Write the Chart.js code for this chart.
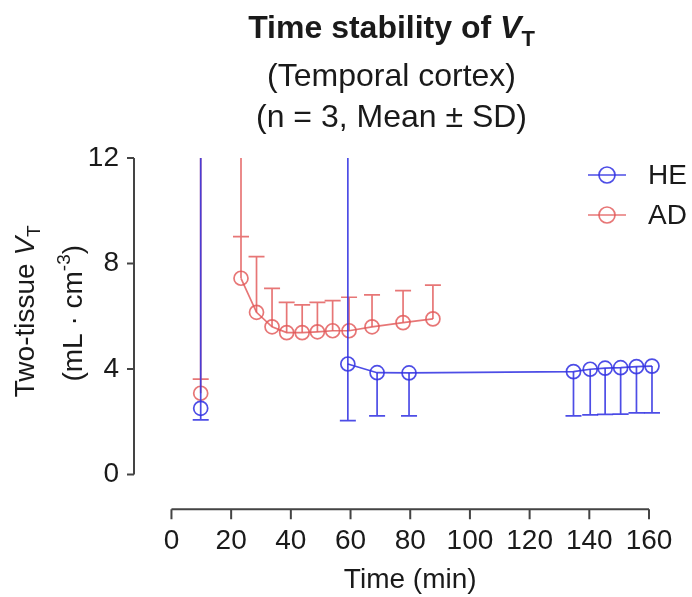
<!DOCTYPE html>
<html><head><meta charset="utf-8">
<script src="https://cdn.jsdelivr.net/npm/chart.js@4.4.0/dist/chart.umd.min.js"></script>
<style>html,body{margin:0;padding:0;background:#fff;}canvas{display:block;}</style>
</head><body>
<canvas id="c" width="692" height="597"></canvas>
<script>
// ---- data ----
const seriesNames = ['HE', 'AD'];
const heTime  = [9.8, 59.1, 68.9, 79.6, 134.7, 140.3, 145.3, 150.5, 155.8, 161.0];
const heMean  = [2.51, 4.19, 3.86, 3.85, 3.90, 3.99, 4.03, 4.05, 4.09, 4.11];
const heLower = [2.07, 2.04, 2.22, 2.22, 2.22, 2.26, 2.28, 2.29, 2.34, 2.34];
const heUpper = [14, 14, null, null, null, null, null, null, null, null];     // off-scale SD arms
const heUpperCap = [null, null, null, null, null, null, null, null, null, null];

const adTime  = [9.8, 23.3, 28.5, 33.7, 38.6, 43.8, 48.9, 54.0, 59.5, 67.2, 77.6, 87.6];
const adMean  = [3.08, 7.44, 6.15, 5.60, 5.38, 5.38, 5.41, 5.45, 5.45, 5.60, 5.76, 5.90];
const adUpper = [14, 14, 8.26, 7.06, 6.53, 6.43, 6.53, 6.59, 6.72, 6.81, 6.97, 7.18];
const adUpperCap = [3.62, 9.02, 8.26, 7.06, 6.53, 6.43, 6.53, 6.59, 6.72, 6.81, 6.97, 7.18];
const adLower = [null, null, null, null, null, null, null, null, null, null, null, null];

const xTicks = [0, 20, 40, 60, 80, 100, 120, 140, 160];
const yTicks = [0, 4, 8, 12];

const FONT = '"Liberation Sans", Arial, Helvetica, sans-serif';
const HE_COLOR = 'rgba(52,52,226,0.88)';
const AD_COLOR = 'rgba(226,88,88,0.82)';
const AXIS_COLOR = '#444';
const TEXT_COLOR = '#1a1a1a';

function pts(xs, ys) { return xs.map((x, i) => ({x: x, y: ys[i]})); }

function drawRich(ctx, segs, x, y) {
  let total = 0;
  segs.forEach(s => { ctx.font = s.font; s.w = ctx.measureText(s.t).width; total += s.w + (s.gap || 0); });
  let cx = x - total / 2;
  ctx.textAlign = 'left';
  ctx.textBaseline = 'alphabetic';
  segs.forEach(s => { ctx.font = s.font; ctx.fillText(s.t, cx, y + (s.dy || 0)); cx += s.w + (s.gap || 0); });
}

const errorBars = {
  upper:  [heUpper, adUpper],
  upperCap: [heUpperCap, adUpperCap],
  lower:  [heLower, adLower]
};

const decorPlugin = {
  id: 'decor',
  afterDatasetsDraw(chart) {
    const ctx = chart.ctx, xs = chart.scales.x, ys = chart.scales.y, a = chart.chartArea;
    ctx.save();
    ctx.beginPath();
    ctx.rect(0, a.top, chart.width, chart.height - a.top);
    ctx.clip();
    const capHalf = 8;
    [1, 0].forEach(di => {
      const ds = chart.data.datasets[di];
      ctx.strokeStyle = ds.borderColor;
      ctx.lineWidth = 1.7;
      ds.data.forEach((p, i) => {
        const px = xs.getPixelForValue(p.x), py = ys.getPixelForValue(p.y);
        const up = errorBars.upper[di][i], upc = errorBars.upperCap[di][i], lo = errorBars.lower[di][i];
        ctx.beginPath();
        if (up != null) { ctx.moveTo(px, py); ctx.lineTo(px, ys.getPixelForValue(up)); }
        if (upc != null) { const cy = ys.getPixelForValue(upc); ctx.moveTo(px - capHalf, cy); ctx.lineTo(px + capHalf, cy);
          if (up == null) { ctx.moveTo(px, py); ctx.lineTo(px, cy); } }
        if (lo != null) { const ly = ys.getPixelForValue(lo); ctx.moveTo(px, py); ctx.lineTo(px, ly);
          ctx.moveTo(px - capHalf, ly); ctx.lineTo(px + capHalf, ly); }
        ctx.stroke();
      });
    });
    ctx.restore();
  },
  afterDraw(chart) {
    const ctx = chart.ctx, xs = chart.scales.x, ys = chart.scales.y, a = chart.chartArea;
    ctx.save();
    // axes
    ctx.strokeStyle = AXIS_COLOR; ctx.lineWidth = 2; ctx.lineCap = 'butt';
    const yx = a.left;
    ctx.beginPath();
    ctx.moveTo(yx, ys.getPixelForValue(yTicks[0])); ctx.lineTo(yx, ys.getPixelForValue(yTicks[yTicks.length - 1]));
    yTicks.forEach(v => { const py = ys.getPixelForValue(v); ctx.moveTo(yx, py); ctx.lineTo(yx - 7, py); });
    const xy = a.bottom;
    ctx.moveTo(xs.getPixelForValue(xTicks[0]), xy); ctx.lineTo(xs.getPixelForValue(xTicks[xTicks.length - 1]), xy);
    xTicks.forEach(v => { const px = xs.getPixelForValue(v); ctx.moveTo(px, xy); ctx.lineTo(px, xy + 10); });
    ctx.stroke();

    ctx.fillStyle = TEXT_COLOR;
    // title
    const cxT = (a.left + xs.getPixelForValue(160)) / 2;
    drawRich(ctx, [
      {t: 'Time stability of ', font: 'bold 32px ' + FONT},
      {t: 'V', font: 'italic bold 32px ' + FONT},
      {t: 'T', font: 'bold 22px ' + FONT, dy: 8}
    ], cxT, 38);
    drawRich(ctx, [{t: '(Temporal cortex)', font: '32px ' + FONT}], cxT, 86);
    drawRich(ctx, [{t: '(n = 3, Mean \u00B1 SD)', font: '32px ' + FONT}], cxT, 127);

    // x title
    const xc = (xs.getPixelForValue(xTicks[0]) + xs.getPixelForValue(xTicks[xTicks.length - 1])) / 2;
    drawRich(ctx, [{t: 'Time (min)', font: '28px ' + FONT}], xc, 588);

    // y title (rotated)
    const yc = (ys.getPixelForValue(0) + ys.getPixelForValue(12)) / 2 - 5;
    ctx.save(); ctx.translate(34, yc); ctx.rotate(-Math.PI / 2);
    drawRich(ctx, [
      {t: 'Two-tissue ', font: '28px ' + FONT},
      {t: 'V', font: 'italic 28px ' + FONT},
      {t: 'T', font: '19px ' + FONT, dy: 6}
    ], 0, 0);
    ctx.restore();
    ctx.save(); ctx.translate(82, yc + 2); ctx.rotate(-Math.PI / 2);
    drawRich(ctx, [
      {t: '(mL \u00B7 cm', font: '28px ' + FONT},
      {t: '-3', font: '19px ' + FONT, dy: -12},
      {t: ')', font: '28px ' + FONT}
    ], 0, 0);
    ctx.restore();

    // legend
    chart.data.datasets.forEach((ds, i) => {
      const ly = 175 + 40 * i;
      ctx.strokeStyle = ds.borderColor; ctx.lineWidth = 1.7;
      ctx.beginPath(); ctx.moveTo(588, ly); ctx.lineTo(626, ly); ctx.stroke();
      ctx.beginPath(); ctx.arc(607, ly, 8, 0, Math.PI * 2); ctx.stroke();
      ctx.fillStyle = TEXT_COLOR; ctx.font = '28px ' + FONT; ctx.textAlign = 'left'; ctx.textBaseline = 'middle';
      ctx.fillText(ds.label, 648, ly + 1);
    });
    ctx.restore();
  }
};

function gapSegment(color) {
  return { borderColor: c => (c.p0DataIndex === 0 ? 'rgba(0,0,0,0)' : color) };
}

new Chart(document.getElementById('c'), {
  type: 'scatter',
  data: {
    datasets: [
      { label: seriesNames[0], data: pts(heTime, heMean), showLine: true, borderColor: HE_COLOR, borderWidth: 1.7,
        pointRadius: 7, pointBorderWidth: 1.7, pointBackgroundColor: 'rgba(0,0,0,0)', pointBorderColor: HE_COLOR,
        segment: gapSegment(HE_COLOR), clip: false },
      { label: seriesNames[1], data: pts(adTime, adMean), showLine: true, borderColor: AD_COLOR, borderWidth: 1.7,
        pointRadius: 7, pointBorderWidth: 1.7, pointBackgroundColor: 'rgba(0,0,0,0)', pointBorderColor: AD_COLOR,
        segment: gapSegment(AD_COLOR), clip: false }
    ]
  },
  options: {
    responsive: false, animation: false, devicePixelRatio: 1,
    layout: { padding: { top: 158, right: 43, bottom: 0, left: 0 } },
    plugins: { legend: { display: false }, title: { display: false }, tooltip: { enabled: false } },
    scales: {
      x: { type: 'linear', min: -12.55, max: 160,
        afterBuildTicks: s => { s.ticks = xTicks.map(v => ({ value: v })); },
        afterFit: s => { s.height = 87.7; s.paddingLeft = 0; s.paddingRight = 0; },
        grid: { display: false, drawTicks: false }, border: { display: false },
        ticks: { font: { size: 28, family: FONT }, color: TEXT_COLOR, padding: 15, maxRotation: 0, autoSkip: false } },
      y: { type: 'linear', min: -1.319, max: 12,
        afterBuildTicks: s => { s.ticks = yTicks.map(v => ({ value: v })); },
        afterFit: s => { s.width = 134; s.paddingTop = 0; s.paddingBottom = 0; },
        grid: { display: false, drawTicks: false }, border: { display: false },
        ticks: { font: { size: 28, family: FONT }, color: TEXT_COLOR, padding: 15, autoSkip: false } }
    }
  },
  plugins: [decorPlugin]
});
</script>
</body></html>
